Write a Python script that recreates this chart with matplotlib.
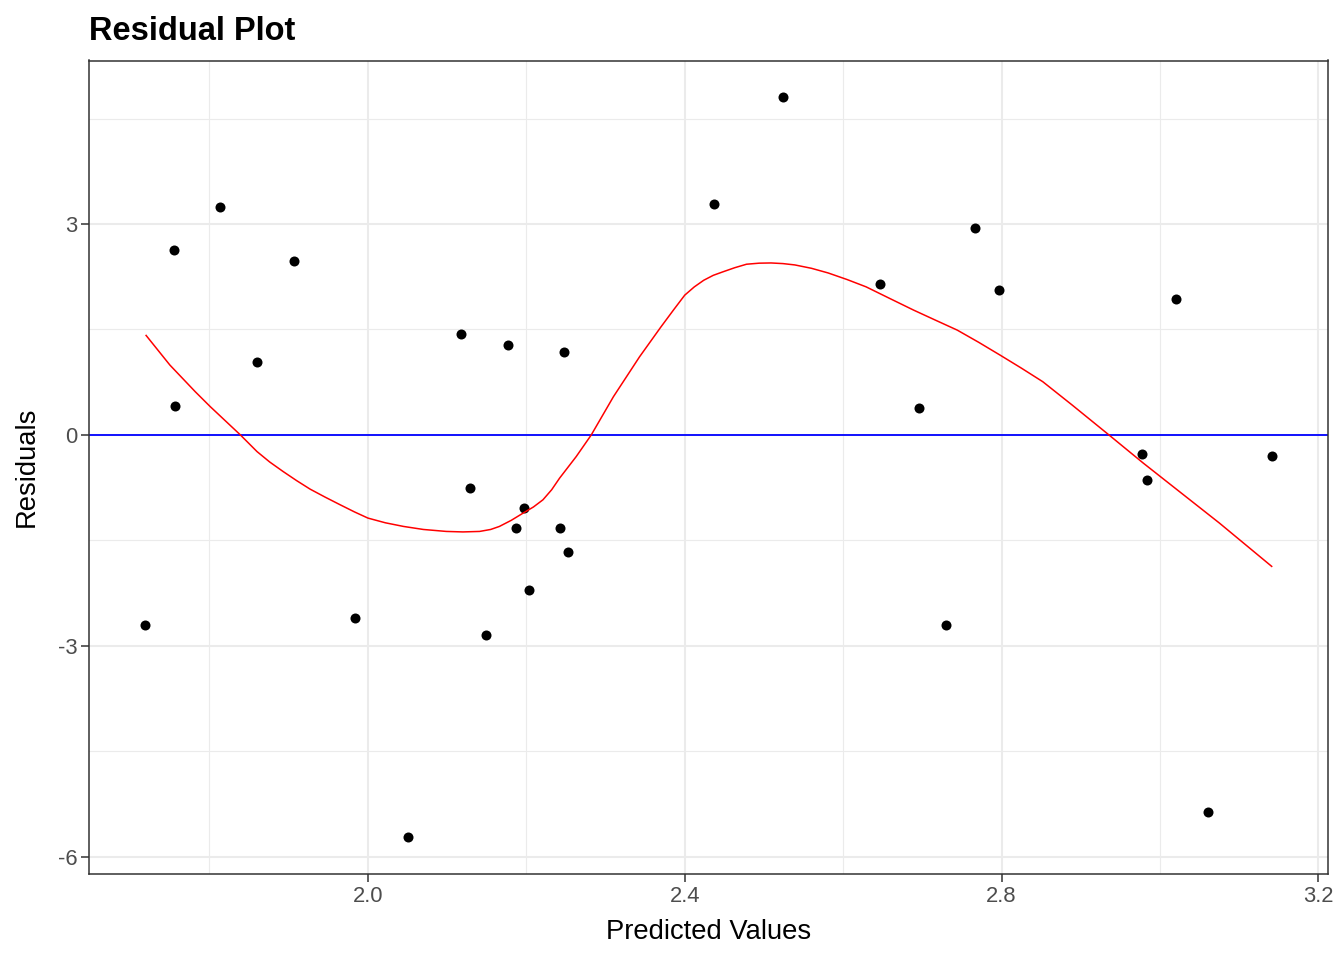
import numpy as np
import matplotlib
matplotlib.use('Agg')
import matplotlib.pyplot as plt
from matplotlib.ticker import MultipleLocator

# valori
predicted = [1.719, 1.755, 1.757, 1.813, 1.860, 1.907, 1.984, 2.050, 2.117, 2.129,
             2.149, 2.177, 2.187, 2.197, 2.203, 2.243, 2.248, 2.252, 2.437, 2.524,
             2.647, 2.696, 2.730, 2.767, 2.797, 2.977, 2.983, 3.020, 3.060, 3.141]
residuals = [-2.70, 2.63, 0.41, 3.24, 1.04, 2.48, -2.60, -5.72, 1.43, -0.75,
             -2.85, 1.28, -1.33, -1.04, -2.20, -1.33, 1.18, -1.66, 3.29, 4.80,
             2.14, 0.38, -2.70, 2.94, 2.06, -0.27, -0.64, 1.94, -5.37, -0.30]

# curva loess
smooth_x = [1.720, 1.750, 1.782, 1.801, 1.839, 1.860, 1.876, 1.893, 1.910, 1.927,
            1.946, 1.965, 1.983, 2.000, 2.022, 2.045, 2.070, 2.099, 2.120, 2.141,
            2.155, 2.166, 2.181, 2.196, 2.209, 2.221, 2.232, 2.242, 2.263, 2.282,
            2.310, 2.343, 2.370, 2.386, 2.400, 2.412, 2.424, 2.436, 2.448, 2.463,
            2.478, 2.494, 2.509, 2.524, 2.539, 2.560, 2.581, 2.605, 2.629, 2.659,
            2.689, 2.716, 2.744, 2.771, 2.798, 2.825, 2.852, 2.889, 2.934, 2.979,
            3.027, 3.075, 3.141]
smooth_y = [1.415, 0.994, 0.615, 0.402, 0.000, -0.237, -0.385, -0.521, -0.650, -0.771,
            -0.885, -0.994, -1.095, -1.183, -1.250, -1.302, -1.345, -1.373, -1.380, -1.373,
            -1.345, -1.302, -1.215, -1.112, -1.025, -0.923, -0.780, -0.615, -0.308, 0.000,
            0.544, 1.112, 1.537, 1.780, 1.988, 2.105, 2.200, 2.270, 2.319, 2.378,
            2.428, 2.443, 2.446, 2.437, 2.418, 2.370, 2.304, 2.210, 2.106, 1.940,
            1.775, 1.635, 1.491, 1.318, 1.136, 0.950, 0.757, 0.426, 0.014, -0.402,
            -0.828, -1.254, -1.870]

plt.rcParams['font.family'] = ['Liberation Sans', 'DejaVu Sans']

fig = plt.figure(figsize=(13.44, 9.6), dpi=100)
ax = fig.add_axes([89 / 1344, 1 - 874 / 960, (1328 - 89) / 1344, (874 - 60.5) / 960])

ax.scatter(predicted, residuals, s=52, color='black', zorder=3, linewidths=0)
ax.axhline(0, color='#0000FF', linewidth=1.3, zorder=2)
ax.plot(smooth_x, smooth_y, color='#FF0000', linewidth=1.1, zorder=4)

ax.margins(x=0.05, y=0.05)
ax.xaxis.set_minor_locator(MultipleLocator(0.2))
ax.yaxis.set_minor_locator(MultipleLocator(1.5))
ax.set_xticks([2.0, 2.4, 2.8, 3.2])
ax.set_xticklabels(['2.0', '2.4', '2.8', '3.2'])
ax.set_yticks([-6, -3, 0, 3])
ax.set_yticklabels(['-6', '-3', '0', '3'])

ax.grid(True, which='major', color='#EBEBEB', linewidth=1.5, zorder=0)
ax.grid(True, which='minor', color='#EBEBEB', linewidth=0.8, zorder=0)
ax.set_axisbelow(True)

for sp in ax.spines.values():
    sp.set_color('#333333')
    sp.set_linewidth(1.1)

ax.tick_params(which='major', length=5.5, width=1.1, color='#333333',
               labelsize=15.8, labelcolor='#4D4D4D', pad=3)
ax.tick_params(which='minor', length=0, width=0)

ax.set_xlabel('Predicted Values', fontsize=19.7, color='black', labelpad=9)
ax.set_ylabel('Residuals', fontsize=19.7, color='black', labelpad=13)

fig.text(89 / 1344, 1 - 31 / 960, 'Residual Plot', fontsize=23.5, fontweight='bold',
         ha='left', va='center')

fig.savefig('out.png', dpi=100)
